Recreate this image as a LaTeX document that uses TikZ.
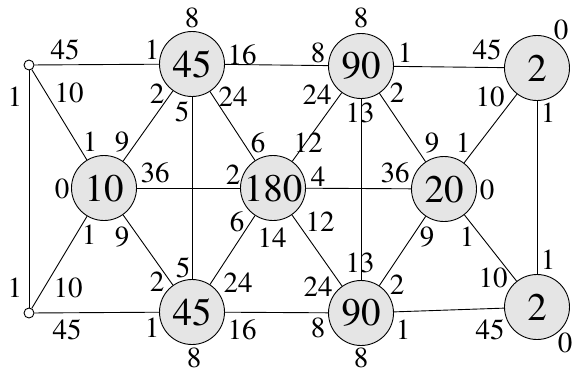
\documentclass[tikz,border=0pt]{standalone}
\usepackage[T1]{fontenc}
\usepackage{times}
\begin{document}
\begin{tikzpicture}[x=1pt,y=-1pt,
  big/.style={circle,draw,line width=0.9pt,fill=black!10,minimum size=65pt,inner sep=0pt,font=\fontsize{39}{39}\selectfont},
  small/.style={circle,draw,line width=0.9pt,fill=white,minimum size=10pt,inner sep=0pt},
  lab/.style={inner sep=0pt,font=\fontsize{29}{30}\selectfont},
  edge/.style={line width=0.9pt}]
\useasboundingbox (0,0) rectangle (572,373);
% nodes
\node[small] (a) at (29,65) {};
\node[small] (b) at (29,313) {};
\node[big] (t45) at (192,64) {45};
\node[big] (t90) at (361,66) {90};
\node[big] (t2) at (537,68) {2};
\node[big] (m10) at (104,188) {10};
\node[big] (m180) at (273,188) {180};
\node[big] (m20) at (444,189) {20};
\node[big] (b45) at (192,312) {45};
\node[big] (b90) at (361,313) {90};
\node[big] (b2) at (537,307) {2};
% edges
\draw[edge] (a) -- (t45);
\draw[edge] (a) -- (b);
\draw[edge] (a) -- (m10);
\draw[edge] (t45) -- (m10);
\draw[edge] (t45) -- (b45);
\draw[edge] (t45) -- (m180);
\draw[edge] (t45) -- (t90);
\draw[edge] (m10) -- (m180);
\draw[edge] (m10) -- (b);
\draw[edge] (m10) -- (b45);
\draw[edge] (b) -- (b45);
\draw[edge] (b45) -- (m180);
\draw[edge] (b45) -- (b90);
\draw[edge] (m180) -- (t90);
\draw[edge] (m180) -- (m20);
\draw[edge] (m180) -- (b90);
\draw[edge] (t90) -- (b90);
\draw[edge] (t90) -- (t2);
\draw[edge] (t90) -- (m20);
\draw[edge] (t2) -- (m20);
\draw[edge] (t2) -- (b2);
\draw[edge] (m20) -- (b90);
\draw[edge] (m20) -- (b2);
\draw[edge] (b90) -- (b2);
% labels
\node[lab] (l1) at (65,50) {45};
\node[lab] (l2) at (152,50) {1};
\node[lab] (l3) at (15,97) {1};
\node[lab] (l4) at (15,288) {1};
\node[lab] (l5) at (69,93) {10};
\node[lab] (l6) at (90,142) {1};
\node[lab] (l7) at (157,94) {2};
\node[lab] (l8) at (122,142) {9};
\node[lab] (l9) at (182,112) {5};
\node[lab] (l10) at (183,268) {5};
\node[lab] (l11) at (233,97) {24};
\node[lab] (l12) at (258,143) {6};
\node[lab] (l13) at (242,55) {16};
\node[lab] (l14) at (318,53) {8};
\node[lab] (l15) at (192,18) {8};
\node[lab] (l16) at (155,173) {36};
\node[lab] (l17) at (233,175) {2};
\node[lab] (l18) at (62,189) {0};
\node[lab] (l19) at (89,235) {1};
\node[lab] (l20) at (68,288) {10};
\node[lab] (l21) at (122,237) {9};
\node[lab] (l22) at (157,282) {2};
\node[lab] (l23) at (67,330) {45};
\node[lab] (l24) at (152,328) {1};
\node[lab] (l25) at (194,358) {8};
\node[lab] (l26) at (238,283) {24};
\node[lab] (l27) at (237,222) {6};
\node[lab] (l28) at (242,330) {16};
\node[lab] (l29) at (318,328) {8};
\node[lab] (l30) at (272,238) {14};
\node[lab] (l31) at (308,143) {12};
\node[lab] (l32) at (317,95) {24};
\node[lab] (l33) at (318,177) {4};
\node[lab] (l34) at (395,173) {36};
\node[lab] (l35) at (320,222) {12};
\node[lab] (l36) at (318,287) {24};
\node[lab] (l37) at (360,113) {13};
\node[lab] (l38) at (360,263) {13};
\node[lab] (l39) at (361,18) {8};
\node[lab] (l40) at (405,53) {1};
\node[lab] (l41) at (487,50) {45};
\node[lab] (l42) at (397,93) {2};
\node[lab] (l43) at (432,143) {9};
\node[lab] (l44) at (490,97) {10};
\node[lab] (l45) at (463,143) {1};
\node[lab] (l46) at (548,113) {1};
\node[lab] (l47) at (548,260) {1};
\node[lab] (l48) at (561,30) {0};
\node[lab] (l49) at (487,190) {0};
\node[lab] (l50) at (427,237) {9};
\node[lab] (l51) at (397,285) {2};
\node[lab] (l52) at (467,237) {1};
\node[lab] (l53) at (493,278) {10};
\node[lab] (l54) at (403,330) {1};
\node[lab] (l55) at (490,330) {45};
\node[lab] (l56) at (361,358) {8};
\node[lab] (l57) at (565,343) {0};
\end{tikzpicture}
\end{document}
